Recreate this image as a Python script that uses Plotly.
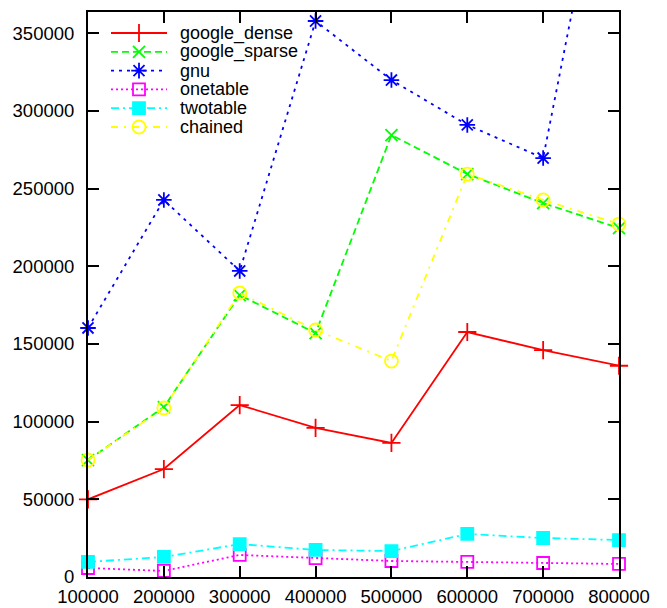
import plotly.graph_objects as go

# Table sizes benchmarked
sizes = [100000, 200000, 300000, 400000, 500000, 600000, 700000, 800000]

# Measured values per hash table implementation
google_dense = [50000, 69500, 110700, 96000, 86300, 157700, 146000, 136000]
google_sparse = [75300, 109400, 181500, 157000, 284500, 259400, 240700, 224600]
gnu = [160300, 242700, 197000, 357900, 319900, 291000, 269700, 517000]
onetable = [5800, 3900, 14200, 12200, 10300, 9700, 9000, 8400]
twotable = [9700, 12900, 21200, 17400, 16700, 27700, 25100, 23800]
chained = [75300, 108800, 182800, 159000, 139000, 259400, 242700, 227200]

y_ticks = [0, 50000, 100000, 150000, 200000, 250000, 300000, 350000]

FONT = "Liberation Sans, Arial, Helvetica, sans-serif"
W, H = 667, 608
L, R, T, B = 88, 48, 12, 31          # margins in px
PW, PH = W - L - R, H - T - B

series = [
    ("google_dense", google_dense, "#ff0000", "solid", "cross-thin-open", 13),
    ("google_sparse", google_sparse, "#00ff00", "7px,4px", "x-thin-open", 12),
    ("gnu", gnu, "#0000ff", "3px,5px", "asterisk-open", 13),
    ("onetable", onetable, "#ff00ff", "2px,3px", "square-open", 12),
    ("twotable", twotable, "#00ffff", "8px,4px,2px,4px", "square", 12),
    ("chained", chained, "#ffff00", "7px,6px,2px,6px", "circle-open", 13),
]

fig = go.Figure()

for name, vals, color, dash, sym, size in series:
    fig.add_trace(go.Scatter(
        x=sizes, y=vals, mode="lines+markers", name=name,
        line=dict(color=color, width=1.8, dash=dash),
        marker=dict(symbol=sym, size=size, color=color,
                    line=dict(color=color, width=1.8)),
        cliponaxis=False, showlegend=False,
    ))

# Key drawn on an overlay axis pair spanning the plot area in pixel units
def px_x(px):
    return px - L

def px_y(py):
    return (H - B) - py

row0, row_step = 33, 18.8
for i, (name, vals, color, dash, sym, size) in enumerate(series):
    yy = px_y(row0 + i * row_step)
    fig.add_trace(go.Scatter(
        x=[px_x(111), px_x(167)], y=[yy, yy], mode="lines",
        line=dict(color=color, width=1.8, dash=dash),
        xaxis="x2", yaxis="y2", showlegend=False, hoverinfo="skip",
    ))
    fig.add_trace(go.Scatter(
        x=[px_x(139)], y=[yy], mode="markers",
        marker=dict(symbol=sym, size=size, color=color,
                    line=dict(color=color, width=1.8)),
        xaxis="x2", yaxis="y2", showlegend=False, hoverinfo="skip",
        cliponaxis=False,
    ))
    fig.add_annotation(
        x=px_x(178), y=yy, xref="x2", yref="y2", text=name,
        showarrow=False, xanchor="left", yanchor="middle",
        font=dict(family=FONT, size=18, color="#000000"),
    )

axis_common = dict(
    showgrid=False, zeroline=False, showline=True, linecolor="#000000",
    linewidth=2, mirror="allticks", ticks="inside", ticklen=11,
    tickwidth=1.8, tickcolor="#000000", automargin=False,
    tickfont=dict(family=FONT, size=18.5, color="#000000"),
)

fig.update_layout(
    width=W, height=H,
    margin=dict(l=L, r=R, t=T, b=B, pad=0),
    paper_bgcolor="#ffffff", plot_bgcolor="#ffffff",
    showlegend=False,
    xaxis=dict(range=[100000, 800000], tickvals=sizes,
               ticktext=[str(v) for v in sizes], ticklabelstandoff=2,
               **axis_common),
    yaxis=dict(range=[0, 363700], tickvals=y_ticks,
               ticktext=[str(v) for v in y_ticks], ticklabelstandoff=8,
               **axis_common),
    xaxis2=dict(range=[0, PW], overlaying="x", visible=False, fixedrange=True),
    yaxis2=dict(range=[0, PH], overlaying="y", visible=False, fixedrange=True),
)

fig.write_html("out.html")
